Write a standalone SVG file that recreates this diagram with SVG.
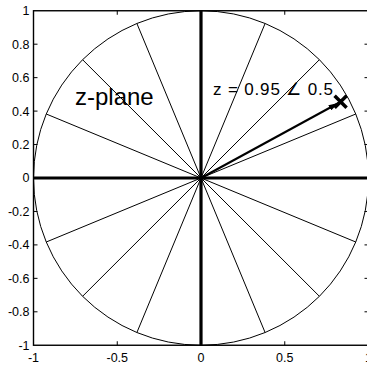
<svg xmlns="http://www.w3.org/2000/svg" width="367" height="367" viewBox="0 0 367 367">
<style>
.tk{font-family:"Liberation Sans",Arial,sans-serif;font-size:12.5px;fill:#000}
.sp{stroke:#000;stroke-width:1;fill:none}
.ax{stroke:#000;stroke-width:3.2;fill:none}
</style>
<defs>
<marker id="ah" viewBox="0 0 10 6" refX="10" refY="3" markerWidth="10" markerHeight="6" markerUnits="userSpaceOnUse" orient="auto">
<path d="M0,0 L10,3 L0,6 z" fill="#000"/>
</marker>
</defs>
<rect width="367" height="367" fill="#fff"/>
<g id="spokes">
<ellipse class="sp" cx="201" cy="178" rx="167.5" ry="167.25"/>
<line class="sp" x1="355.75" y1="114" x2="46.25" y2="242"/>
<line class="sp" x1="319.4" y1="59.7" x2="82.6" y2="296.3"/>
<line class="sp" x1="265.1" y1="23.5" x2="136.9" y2="332.5"/>
<line class="sp" x1="136.9" y1="23.5" x2="265.1" y2="332.5"/>
<line class="sp" x1="82.6" y1="59.7" x2="319.4" y2="296.3"/>
<line class="sp" x1="46.25" y1="114" x2="355.75" y2="242"/>
</g>
<g id="axes">
<rect x="33.5" y="10.75" width="335" height="334.5" fill="none" stroke="#000" stroke-width="1.4"/>
<line class="ax" x1="33.5" y1="178" x2="368.5" y2="178"/>
<line class="ax" x1="201" y1="10.75" x2="201" y2="345.25"/>
<path stroke="#000" stroke-width="1" fill="none" d="M33.5,44.2h4M33.5,77.65h4M33.5,111.1h4M33.5,144.55h4M33.5,211.45h4M33.5,244.9h4M33.5,278.35h4M33.5,311.8h4M368.5,44.2h-4M368.5,77.65h-4M368.5,111.1h-4M368.5,144.55h-4M368.5,211.45h-4M368.5,244.9h-4M368.5,278.35h-4M368.5,311.8h-4M117.25,10.75v4M284.75,10.75v4M117.25,345.25v-4M284.75,345.25v-4"/>
<g class="tk" text-anchor="end">
<text x="29.5" y="15.2">1</text>
<text x="29.5" y="48.6">0.8</text>
<text x="29.5" y="82">0.6</text>
<text x="29.5" y="115.5">0.4</text>
<text x="29.5" y="149">0.2</text>
<text x="29.5" y="182.4">0</text>
<text x="29.5" y="215.9">-0.2</text>
<text x="29.5" y="249.3">-0.4</text>
<text x="29.5" y="282.8">-0.6</text>
<text x="29.5" y="316.2">-0.8</text>
<text x="29.5" y="349.7">-1</text>
</g>
<g class="tk" text-anchor="middle">
<text x="33.5" y="362">-1</text>
<text x="117.25" y="362">-0.5</text>
<text x="201" y="362">0</text>
<text x="284.75" y="362">0.5</text>
<text x="368.5" y="362">1</text>
</g>
</g>
<g id="pole">
<line x1="201" y1="178" x2="338.5" y2="103" stroke="#000" stroke-width="2" marker-end="url(#ah)"/>
<path d="M334.6,95.8L346.6,107.8M346.6,95.8L334.6,107.8" stroke="#000" stroke-width="3.5" fill="none"/>
</g>
<text id="zplane" x="75" y="105" font-family="'Liberation Sans',Arial,sans-serif" font-size="24">z-plane</text>
<text id="zlabel" x="213" y="95" font-family="'Liberation Sans',Arial,sans-serif" font-size="17" textLength="120" lengthAdjust="spacing">z = 0.95 ∠ 0.5</text>
</svg>
